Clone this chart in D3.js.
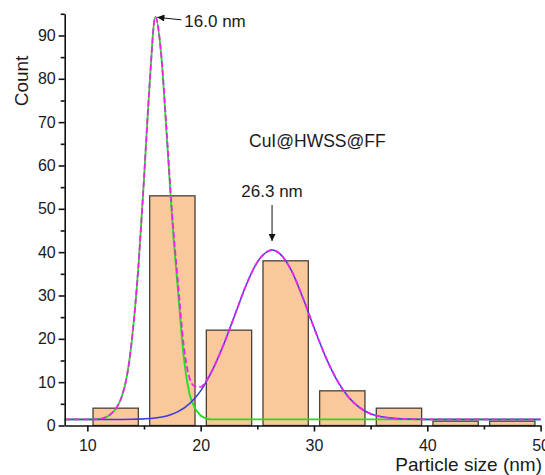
<!DOCTYPE html>
<html>
<head>
<meta charset="utf-8">
<script src="https://cdn.jsdelivr.net/npm/d3@7"></script>
<style>
  body { margin: 0; background: #fff; }
  text { font-family: "Liberation Sans", Arial, sans-serif; fill: #1a1a1a; }
</style>
</head>
<body>
<div id="chart"></div>
<script>
// histogram bins (left edge of each 5 nm bin) and counts
var binStart = [10, 15, 20, 25, 30, 35, 40, 45];
var counts = [4, 53, 22, 38, 8, 4, 1, 1];

// first gaussian peak (green)
var peak1X = [8, 10, 11, 12, 12.5, 13, 13.5, 14, 14.5, 15, 15.5, 16, 16.5, 17, 17.5, 18, 18.5, 19, 19.5, 20, 20.5, 21, 30, 50];
var peak1Y = [1.4, 1.4, 1.5, 2.5, 3.8, 6.4, 11.5, 21.5, 36.5, 57, 79, 94.3, 86, 67, 47, 31, 16, 7.5, 4, 2.3, 1.6, 1.4, 1.4, 1.4];

// second gaussian peak (blue)
var peak2X = [8, 12, 14, 16, 17, 18, 19, 20, 21, 22, 23, 24, 25, 26, 26.3, 27, 28, 29, 30, 31, 32, 33, 34, 35, 36, 37, 38, 40, 50];
var peak2Y = [1.4, 1.4, 1.45, 1.75, 2.2, 3.2, 5.0, 8.0, 12.6, 18.5, 25.4, 32.3, 37.7, 40.3, 40.5, 39.6, 35.8, 29.6, 22.6, 16.0, 10.6, 6.7, 4.2, 2.7, 2.0, 1.65, 1.5, 1.4, 1.4];

// cumulative fit (magenta dashed)
var cumX = [8, 10, 11, 12, 12.5, 13, 13.5, 14, 14.5, 15, 15.5, 16, 16.5, 17, 17.5, 18, 18.5, 19, 19.5, 20, 20.5, 21, 22, 23, 24, 25, 26, 26.3, 27, 28, 29, 30, 31, 32, 33, 34, 35, 36, 37, 38, 40, 50];
var cumY = [1.4, 1.4, 1.5, 2.5, 3.8, 6.4, 11.5, 21.5, 36.5, 57, 79, 94.3, 86.2, 67.8, 48.2, 32.8, 18.6, 11.1, 9.0, 8.9, 10.4, 12.6, 18.5, 25.4, 32.3, 37.7, 40.3, 40.5, 39.6, 35.8, 29.6, 22.6, 16.0, 10.6, 6.7, 4.2, 2.7, 2.0, 1.65, 1.5, 1.4, 1.4];

var xMajor = [10, 20, 30, 40, 50];
var xMinor = [15, 25, 35, 45];
var yMajor = [0, 10, 20, 30, 40, 50, 60, 70, 80, 90];
var yMinor = [5, 15, 25, 35, 45, 55, 65, 75, 85, 95];

var W = 545, H = 475;

var svg = d3.select("#chart").append("svg")
    .attr("width", W)
    .attr("height", H)
    .style("background-color", "white");

var x = d3.scaleLinear().domain([8, 50]).range([64.7, 540.6]);
var y = d3.scaleLinear().domain([0, 95]).range([425.5, 13.8]);

// bars
svg.append("g")
  .selectAll("rect")
  .data(binStart)
  .enter().append("rect")
    .attr("x", function(d) { return x(d + 0.5); })
    .attr("y", function(d, i) { return y(counts[i]); })
    .attr("width", function(d) { return x(d + 4.5) - x(d + 0.5); })
    .attr("height", function(d, i) { return y(0) - y(counts[i]); })
    .attr("fill", "#f9c89b")
    .attr("stroke", "#4a4038")
    .attr("stroke-width", 1.3);

var line = d3.line()
    .x(function(d) { return x(d[0]); })
    .y(function(d) { return y(d[1]); })
    .curve(d3.curveMonotoneX);

function pairs(xs, ys) { return xs.map(function(v, i) { return [v, ys[i]]; }); }

svg.append("path")
    .attr("d", line(pairs(peak1X, peak1Y)))
    .attr("fill", "none")
    .attr("stroke", "#22dd22")
    .attr("stroke-width", 1.8);

svg.append("path")
    .attr("d", line(pairs(peak2X, peak2Y)))
    .attr("fill", "none")
    .attr("stroke", "#3a3ae6")
    .attr("stroke-width", 1.5);

svg.append("path")
    .attr("d", line(pairs(cumX, cumY)))
    .attr("fill", "none")
    .attr("stroke", "#ee22ee")
    .attr("stroke-width", 1.8)
    .attr("stroke-dasharray", "6,3");

// axes
var xAxis = svg.append("g")
    .attr("transform", "translate(0," + y(0) + ")")
    .call(d3.axisBottom(x).tickValues(xMajor).tickSize(6).tickSizeOuter(0).tickFormat(d3.format("d")));
svg.append("g")
    .attr("transform", "translate(0," + y(0) + ")")
    .call(d3.axisBottom(x).tickValues(xMinor).tickSize(4).tickSizeOuter(0).tickFormat(""))
    .select(".domain").remove();

var yAxis = svg.append("g")
    .attr("transform", "translate(" + x(8) + ",0)")
    .call(d3.axisLeft(y).tickValues(yMajor).tickSize(6).tickSizeOuter(0).tickFormat(d3.format("d")));
svg.append("g")
    .attr("transform", "translate(" + x(8) + ",0)")
    .call(d3.axisLeft(y).tickValues(yMinor).tickSize(4).tickSizeOuter(0).tickFormat(""))
    .select(".domain").remove();

svg.selectAll(".domain, .tick line").attr("stroke", "#111").attr("stroke-width", 1.6);
svg.selectAll(".tick text")
    .style("font-family", "'Liberation Sans', Arial, sans-serif")
    .style("font-size", "16px")
    .attr("fill", "#1a1a1a");
xAxis.selectAll(".tick text").attr("dy", "1.05em");
yAxis.selectAll(".tick text").attr("x", -9);

// axis titles
svg.append("text")
    .attr("x", 542)
    .attr("y", 471)
    .attr("text-anchor", "end")
    .style("font-size", "19px")
    .text("Particle size (nm)");

svg.append("text")
    .attr("transform", "translate(28,81) rotate(-90)")
    .attr("text-anchor", "middle")
    .style("font-size", "19px")
    .text("Count");

// annotations
svg.append("defs").append("marker")
    .attr("id", "arrow")
    .attr("viewBox", "0 0 10 10")
    .attr("refX", 10).attr("refY", 5)
    .attr("markerWidth", 9).attr("markerHeight", 7)
    .attr("markerUnits", "userSpaceOnUse")
    .attr("orient", "auto")
    .append("path").attr("d", "M0,0 L10,5 L0,10 z").attr("fill", "#111");

svg.append("line")
    .attr("x1", x(16) + 26).attr("y1", y(94.3) + 3)
    .attr("x2", x(16) + 2).attr("y2", y(94.3) + 0.5)
    .attr("stroke", "#111").attr("stroke-width", 1)
    .attr("marker-end", "url(#arrow)");
svg.append("text")
    .attr("x", x(16) + 29)
    .attr("y", y(94.3) + 10)
    .style("font-size", "17px")
    .text("16.0 nm");

svg.append("line")
    .attr("x1", x(26.3)).attr("y1", 205)
    .attr("x2", x(26.3)).attr("y2", y(40.5) - 9)
    .attr("stroke", "#111").attr("stroke-width", 1)
    .attr("marker-end", "url(#arrow)");
svg.append("text")
    .attr("x", x(26.3))
    .attr("y", 197)
    .attr("text-anchor", "middle")
    .style("font-size", "17px")
    .text("26.3 nm");

svg.append("text")
    .attr("x", 249)
    .attr("y", 147)
    .style("font-size", "17.5px")
    .text("CuI@HWSS@FF");
</script>
</body>
</html>
